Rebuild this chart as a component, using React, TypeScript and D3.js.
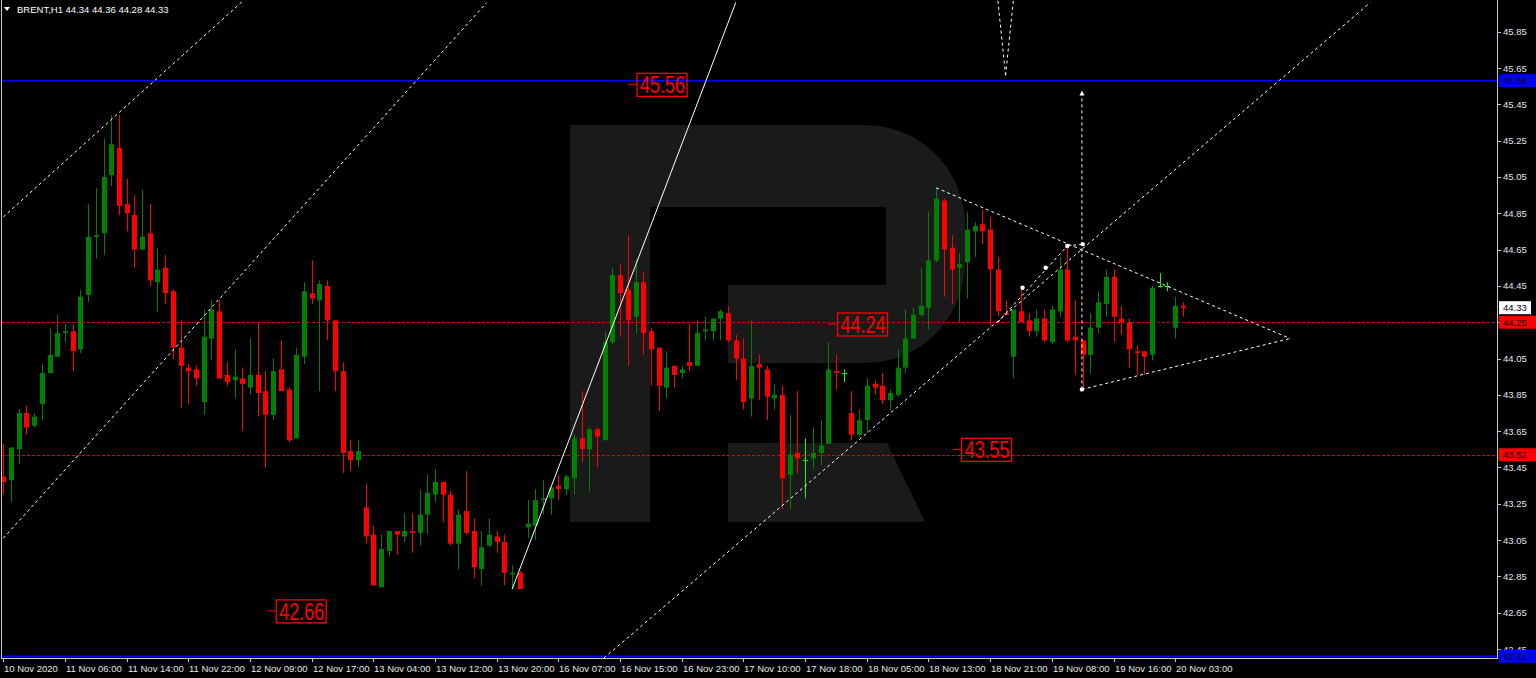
import * as d3 from "d3";

// BRENT H1 candles, 10 Nov 2020 .. 20 Nov 04:00
const opens = [
  43.40, 43.38, 43.55, 43.75, 43.68, 43.80, 43.97, 44.06, 44.19, 44.20,
  44.10, 44.40, 44.72, 44.74, 45.06, 45.21, 44.90, 44.84, 44.65, 44.74,
  44.47, 44.55, 44.42, 44.11, 44.00, 43.99, 43.81, 44.16, 44.31, 43.96,
  43.93, 43.94, 43.89, 43.96, 43.87, 43.74, 43.99, 43.88, 43.61, 44.06,
  44.41, 44.37, 44.45, 44.26, 43.98, 43.54, 43.49, 43.23, 43.08, 42.79,
  42.99, 43.10, 43.07, 43.10, 43.09, 43.19, 43.30, 43.37, 43.30, 43.03,
  43.21, 43.10, 42.89, 43.02, 43.07, 43.04, 42.86, 42.87, 43.12, 43.13,
  43.27, 43.28, 43.35, 43.33, 43.39, 43.61, 43.55, 43.66, 43.60, 44.14,
  44.51, 44.43, 44.28, 44.47, 44.20, 44.11, 43.89, 44.01, 43.97, 44.03,
  44.01, 44.20, 44.20, 44.27, 44.30, 44.15, 44.05, 43.83, 44.02, 43.99,
  43.83, 43.85, 43.41, 43.53, 43.49, 43.50, 43.53, 43.58, 43.98, 43.97,
  43.75, 43.63, 43.71, 43.91, 43.90, 43.82, 43.85, 44.00, 44.16, 44.29,
  44.33, 44.59, 44.92, 44.66, 44.55, 44.58, 44.75, 44.79, 44.76, 44.54,
  44.30, 44.06, 44.31, 44.26, 44.20, 44.27, 44.14, 44.31, 44.54, 44.17,
  44.15, 44.07, 44.22, 44.35, 44.50, 44.27, 44.25, 44.09, 44.09, 44.07,
  44.45, 44.45, 44.22, 44.34,
];
const highs = [
  43.58, 43.56, 43.77, 43.79, 43.75, 44.02, 44.22, 44.29, 44.24, 44.24,
  44.43, 44.90, 44.99, 45.26, 45.39, 45.39, 45.04, 44.95, 44.98, 44.90,
  44.66, 44.62, 44.43, 44.26, 44.02, 44.01, 44.32, 44.37, 44.37, 44.03,
  44.10, 44.00, 44.16, 44.25, 43.98, 44.05, 44.15, 43.89, 44.11, 44.47,
  44.59, 44.48, 44.48, 44.26, 44.03, 43.60, 43.60, 43.36, 43.13, 43.08,
  43.10, 43.10, 43.20, 43.20, 43.33, 43.41, 43.44, 43.37, 43.32, 43.22,
  43.43, 43.17, 43.10, 43.17, 43.10, 43.08, 42.91, 42.88, 43.27, 43.33,
  43.38, 43.35, 43.41, 43.41, 43.63, 43.87, 43.67, 43.67, 44.20, 44.55,
  44.57, 44.73, 44.60, 44.53, 44.22, 44.11, 44.09, 44.01, 44.01, 44.24,
  44.26, 44.28, 44.27, 44.32, 44.34, 44.18, 44.16, 44.26, 44.07, 44.01,
  43.91, 43.90, 43.74, 43.87, 43.61, 43.67, 43.71, 44.14, 44.07, 43.99,
  43.87, 43.77, 43.94, 43.93, 43.97, 43.88, 44.10, 44.32, 44.33, 44.55,
  44.86, 44.99, 44.93, 44.73, 44.63, 44.86, 44.80, 44.87, 44.83, 44.61,
  44.37, 44.32, 44.44, 44.30, 44.32, 44.32, 44.34, 44.61, 44.67, 44.37,
  44.15, 44.30, 44.42, 44.54, 44.54, 44.34, 44.27, 44.12, 44.09, 44.45,
  44.52, 44.47, 44.39, 44.36,
];
const lows = [
  43.30, 43.26, 43.47, 43.63, 43.67, 43.71, 43.97, 44.06, 44.14, 43.98,
  44.08, 44.36, 44.60, 44.62, 45.00, 44.84, 44.75, 44.55, 44.65, 44.45,
  44.31, 44.35, 44.05, 43.78, 43.80, 43.90, 43.74, 44.04, 43.94, 43.90,
  43.83, 43.65, 43.85, 43.73, 43.45, 43.71, 43.87, 43.59, 43.61, 44.02,
  44.35, 43.87, 44.15, 43.87, 43.42, 43.43, 43.45, 43.03, 42.80, 42.79,
  42.96, 42.97, 43.04, 42.98, 43.02, 43.08, 43.26, 43.15, 43.02, 42.89,
  43.08, 42.84, 42.80, 43.01, 42.98, 42.80, 42.78, 42.78, 43.06, 43.05,
  43.19, 43.19, 43.27, 43.30, 43.30, 43.48, 43.32, 43.45, 43.60, 44.13,
  44.17, 44.01, 44.19, 44.07, 43.90, 43.76, 43.83, 43.89, 43.94, 43.98,
  44.01, 44.15, 44.15, 44.15, 44.14, 43.93, 43.77, 43.73, 43.82, 43.71,
  43.77, 43.22, 43.22, 43.42, 43.28, 43.44, 43.46, 43.58, 43.88, 43.92,
  43.60, 43.62, 43.64, 43.85, 43.80, 43.76, 43.84, 43.97, 44.16, 44.28,
  44.21, 44.58, 44.39, 44.35, 44.25, 44.38, 44.61, 44.68, 44.23, 44.28,
  44.29, 43.94, 44.25, 44.17, 44.17, 44.14, 44.13, 44.28, 44.14, 43.96,
  43.88, 43.97, 44.19, 44.28, 44.14, 44.18, 44.00, 43.96, 43.96, 44.04,
  44.44, 44.42, 44.16, 44.28,
];
const closes = [
  43.37, 43.56, 43.75, 43.67, 43.73, 43.97, 44.07, 44.19, 44.20, 44.09,
  44.39, 44.72, 44.73, 45.05, 45.23, 44.89, 44.85, 44.65, 44.72, 44.48,
  44.54, 44.41, 44.11, 44.01, 43.98, 43.94, 44.17, 44.32, 43.94, 43.92,
  43.95, 43.91, 43.96, 43.86, 43.74, 43.98, 43.87, 43.60, 44.07, 44.42,
  44.38, 44.46, 44.26, 43.98, 43.53, 43.49, 43.54, 43.07, 42.80, 43.00,
  43.10, 43.08, 43.10, 43.09, 43.19, 43.31, 43.37, 43.30, 43.03, 43.19,
  43.09, 42.90, 43.01, 43.08, 43.04, 42.87, 42.87, 42.78, 43.14, 43.27,
  43.28, 43.34, 43.33, 43.40, 43.61, 43.55, 43.66, 43.62, 44.14, 44.51,
  44.41, 44.26, 44.47, 44.19, 44.10, 43.90, 44.00, 43.96, 43.99, 44.01,
  44.19, 44.21, 44.27, 44.31, 44.15, 44.05, 43.81, 44.01, 44.00, 43.84,
  43.85, 43.39, 43.52, 43.50, 43.49, 43.53, 43.57, 43.99, 43.97, 43.97,
  43.63, 43.71, 43.90, 43.89, 43.82, 43.86, 44.00, 44.16, 44.29, 44.34,
  44.59, 44.93, 44.65, 44.54, 44.57, 44.76, 44.78, 44.75, 44.54, 44.31,
  44.29, 44.32, 44.25, 44.20, 44.27, 44.15, 44.32, 44.54, 44.15, 44.15,
  44.07, 44.22, 44.36, 44.50, 44.28, 44.25, 44.10, 44.08, 44.06, 44.44,
  44.45, 44.45, 44.34, 44.33,
];

// one label every 8 bars
const timeLabels = [
  "10 Nov 2020", "11 Nov 06:00", "11 Nov 14:00", "11 Nov 22:00", "12 Nov 09:00",
  "12 Nov 17:00", "13 Nov 04:00", "13 Nov 12:00", "13 Nov 20:00", "16 Nov 07:00",
  "16 Nov 15:00", "16 Nov 23:00", "17 Nov 10:00", "17 Nov 18:00", "18 Nov 05:00",
  "18 Nov 13:00", "18 Nov 21:00", "19 Nov 08:00", "19 Nov 16:00", "20 Nov 03:00",
];
const priceTicks = [
  45.85, 45.65, 45.45, 45.25, 45.05, 44.85, 44.65, 44.45, 44.25,
  44.05, 43.85, 43.65, 43.45, 43.25, 43.05, 42.85, 42.65, 42.45,
];

// horizontal levels
const blueLevels = [45.58, 42.41];
const redLevels = [44.25, 43.52];
const bidPrice = 44.33;

// trend lines: [barIndex, price] pairs
const trendLines: { a: [number, number]; b: [number, number]; dashed: boolean }[] = [
  { a: [0, 44.83], b: [31.1, 46.02], dashed: true },
  { a: [0, 43.06], b: [62.7, 46.01], dashed: true },
  { a: [66, 42.78], b: [95, 46.01], dashed: false },
  { a: [77.9, 42.4], b: [177.3, 46.01], dashed: true },
  { a: [121, 44.99], b: [166.9, 44.16], dashed: true },
  { a: [139.9, 43.88], b: [166.9, 44.16], dashed: true },
  { a: [129, 44.25], b: [138, 44.67], dashed: true },
  { a: [138, 44.67], b: [140, 44.68], dashed: true },
  { a: [139.9, 43.88], b: [139.9, 45.51], dashed: true },
  { a: [129, 46.02], b: [130, 45.61], dashed: true },
  { a: [131, 46.02], b: [130, 45.61], dashed: true },
];
const markers: [number, number][] = [
  [132.2, 44.44], [135.2, 44.55], [138, 44.67], [140, 44.68], [139.9, 43.88],
];

// price labels drawn on chart
const priceNotes: { text: string; bar: number; price: number }[] = [
  { text: "45.56", bar: 82.2, price: 45.56 },
  { text: "44.24", bar: 108.2, price: 44.24 },
  { text: "43.55", bar: 124.3, price: 43.55 },
  { text: "42.66", bar: 35.4, price: 42.66 },
];

const W = 1536;
const H = 678;
const plotLeft = 2;
const plotRight = 1497;
const plotBottom = 658;
const font = "'Liberation Sans', Arial, sans-serif";

export default function App() {
  const x = d3.scaleLinear().domain([0, 152]).range([3.3, 1175.2]);
  const y = d3.scaleLinear().domain([42.65, 45.85]).range([612.7, 31.7]);

  const bull = "#008000";
  const bear = "#ff0000";

  return (
    <svg
      width={W}
      height={H}
      style={{ position: "fixed", left: 0, top: 0, background: "#000" }}
    >
      <defs>
        <clipPath id="plot">
          <rect x={plotLeft} y={0} width={plotRight - plotLeft} height={plotBottom} />
        </clipPath>
      </defs>
      <rect width={W} height={H} fill="#000" />

      {/* watermark */}
      <g fill="#1a1a1a">
        <path d="M570,125 H865 A100,100 0 0 1 965,225 V263 A100,100 0 0 1 865,363 H728 V285 H886 V207 H650 V522 H570 Z" />
        <path d="M728,443 H887 L925,522 H728 Z" />
      </g>

      <g clipPath="url(#plot)">
        {/* levels */}
        {blueLevels.map((p) => (
          <line key={"b" + p} x1={plotLeft} x2={plotRight} y1={y(p)} y2={y(p)} stroke="#0000ff" strokeWidth={1.6} />
        ))}
        {redLevels.map((p) => (
          <line key={"r" + p} x1={plotLeft} x2={plotRight} y1={Math.round(y(p)) + 0.5} y2={Math.round(y(p)) + 0.5} stroke="#e00000" strokeWidth={1.2} strokeDasharray="3,2" />
        ))}

        {/* candles */}
        {opens.map((o, i) => {
          const c = closes[i];
          const cx = Math.round(x(i));
          const up = c >= o;
          if (o === c) {
            return (
              <g key={i} stroke="#00ff00">
                <line x1={cx + 0.5} x2={cx + 0.5} y1={y(highs[i])} y2={y(lows[i])} />
                <line x1={cx - 2} x2={cx + 3} y1={Math.round(y(o)) + 0.5} y2={Math.round(y(o)) + 0.5} />
              </g>
            );
          }
          const col = up ? bull : bear;
          const top = y(Math.max(o, c));
          const bot = y(Math.min(o, c));
          return (
            <g key={i}>
              <line x1={cx + 0.5} x2={cx + 0.5} y1={y(highs[i])} y2={y(lows[i])} stroke={col} />
              <rect x={cx - 2} y={top} width={5} height={Math.max(1, bot - top)} fill={col} />
            </g>
          );
        })}

        {/* trend lines */}
        {trendLines.map((t, i) => (
          <line
            key={"t" + i}
            x1={x(t.a[0])}
            y1={y(t.a[1])}
            x2={x(t.b[0])}
            y2={y(t.b[1])}
            stroke="#ffffff"
            strokeWidth={1}
            strokeDasharray={t.dashed ? "3,3" : undefined}
          />
        ))}
        {markers.map((m, i) => (
          <circle key={"m" + i} cx={x(m[0])} cy={y(m[1])} r={2.2} fill="#ffffff" />
        ))}
        <path
          d={`M${x(139.9)},${y(45.51) - 3} l-2.5,5 h5 z`}
          fill="#ffffff"
        />

        {/* on-chart price notes */}
        {priceNotes.map((n) => {
          const left = x(n.bar);
          const cy = y(n.price);
          return (
            <g key={n.text}>
              <line x1={left - 9} x2={left} y1={cy} y2={cy} stroke="#ff0000" strokeWidth={1} />
              <rect x={left} y={cy - 11} width={50} height={23} fill="none" stroke="#ff0000" strokeWidth={1.3} />
              <text
                x={left + 3}
                y={cy + 9}
                fill="#ff0000"
                fontFamily={font}
                fontSize={24}
                textLength={45}
                lengthAdjust="spacingAndGlyphs"
              >
                {n.text}
              </text>
            </g>
          );
        })}
      </g>

      {/* frame */}
      <line x1={plotLeft - 0.5} x2={plotLeft - 0.5} y1={0} y2={plotBottom} stroke="#c8c8c8" />
      <line x1={plotRight + 0.5} x2={plotRight + 0.5} y1={0} y2={plotBottom + 1} stroke="#c8c8c8" />
      <line x1={plotLeft - 1} x2={plotRight + 1} y1={plotBottom + 0.5} y2={plotBottom + 0.5} stroke="#c8c8c8" />

      {/* price axis */}
      {priceTicks.map((p) => (
        <g key={p}>
          <line x1={plotRight + 1} x2={plotRight + 4} y1={Math.round(y(p)) + 0.5} y2={Math.round(y(p)) + 0.5} stroke="#c8c8c8" />
          <text x={plotRight + 6} y={y(p) + 3.5} fill="#e6e6e6" fontFamily={font} fontSize={9.5}>
            {p.toFixed(2)}
          </text>
        </g>
      ))}
      {[
        { p: blueLevels[0], bg: "#0000ff" },
        { p: bidPrice, bg: "#ffffff" },
        { p: redLevels[0], bg: "#ff0000" },
        { p: redLevels[1], bg: "#ff0000" },
        { p: blueLevels[1], bg: "#0000ff" },
      ].map((b) => (
        <g key={"lab" + b.p}>
          <rect x={plotRight + 2} y={y(b.p) - 6.5} width={b.bg === "#ffffff" ? 32 : 38} height={13} fill={b.bg} />
          <text x={plotRight + 6} y={y(b.p) + 3.5} fill="#000" fontFamily={font} fontSize={9.5}>
            {b.p.toFixed(2)}
          </text>
        </g>
      ))}

      {/* time axis */}
      {timeLabels.map((t, k) => {
        const tx = Math.round(x(k * 8));
        return (
          <g key={t}>
            <line x1={tx + 0.5} x2={tx + 0.5} y1={plotBottom} y2={plotBottom + 4} stroke="#c8c8c8" />
            <text x={tx + 1} y={plotBottom + 14} fill="#e6e6e6" fontFamily={font} fontSize={9.5}>
              {t}
            </text>
          </g>
        );
      })}

      {/* header */}
      <path d="M4,7 h6 l-3,4 z" fill="#ffffff" />
      <text x={17} y={13} fill="#ffffff" fontFamily={font} fontSize={9.5}>
        {"BRENT,H1  44.34 44.36 44.28 44.33"}
      </text>
    </svg>
  );
}
